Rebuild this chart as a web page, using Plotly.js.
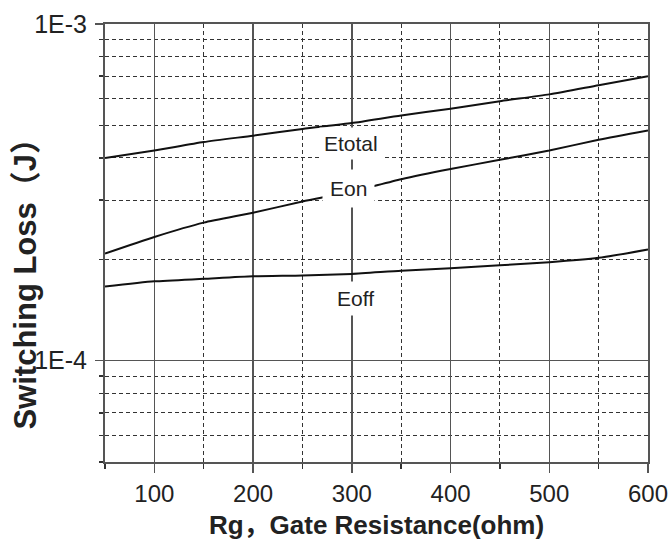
<!DOCTYPE html>
<html><head><meta charset="utf-8">
<script src="https://cdn.plot.ly/plotly-3.0.1.min.js"></script>
<style>html,body{margin:0;padding:0;background:#fff}#chart{width:669px;height:547px}</style>
</head><body><div id="chart"></div>
<script>
// Gate resistance (ohm)
const rg = [50, 100, 150, 200, 250, 300, 350, 400, 450, 500, 550, 600];
// Switching losses (J)
const eTotal = [4.00e-4, 4.21e-4, 4.46e-4, 4.66e-4, 4.88e-4, 5.08e-4, 5.35e-4, 5.60e-4, 5.90e-4, 6.18e-4, 6.58e-4, 7.00e-4];
const eOn    = [2.08e-4, 2.33e-4, 2.57e-4, 2.75e-4, 2.97e-4, 3.18e-4, 3.46e-4, 3.71e-4, 3.95e-4, 4.21e-4, 4.53e-4, 4.83e-4];
const eOff   = [1.66e-4, 1.72e-4, 1.75e-4, 1.78e-4, 1.79e-4, 1.81e-4, 1.85e-4, 1.88e-4, 1.92e-4, 1.96e-4, 2.02e-4, 2.14e-4];
const seriesNames = ['Etotal', 'Eon', 'Eoff'];
const yTickVals = [1e-4, 1e-3];
const yTickText = ['1E-4', '1E-3'];
const xTitle = 'Rg，Gate Resistance(ohm)';
const yTitle = 'Switching Loss（J）';

const FONT = "Arial, 'Liberation Sans', 'Noto Sans CJK SC', sans-serif";
const line = {color: '#111', width: 2, shape: 'spline', smoothing: 0.6};
const traces = [eTotal, eOn, eOff].map((ys, i) => ({
  x: rg, y: ys, name: seriesNames[i], type: 'scatter', mode: 'lines', line: line, showlegend: false
}));

const labelPos = [
  {x: 299, y: 4.42e-4, pad: 4},
  {x: 297, y: 3.24e-4, pad: 7},
  {x: 304, y: 1.53e-4, pad: 5}
];
const annotations = seriesNames.map((n, i) => ({
  text: n, x: labelPos[i].x, y: Math.log10(labelPos[i].y), xref: 'x', yref: 'y',
  showarrow: false, bgcolor: '#fff', borderpad: labelPos[i].pad,
  font: {family: FONT, size: 21, color: '#222'}
}));
annotations.push({
  text: yTitle, xref: 'paper', yref: 'paper', x: -0.146, y: 0.425,
  xanchor: 'center', yanchor: 'middle', textangle: -90, showarrow: false,
  font: {family: FONT, size: 31, color: '#222', weight: 'bold'}
});

const layout = {
  width: 669, height: 547,
  margin: {l: 105, r: 21, t: 24, b: 85},
  paper_bgcolor: '#fff', plot_bgcolor: '#fff',
  font: {family: FONT, color: '#222'},
  xaxis: {
    range: [50, 600], tick0: 0, dtick: 100,
    showline: true, mirror: true, linecolor: '#555', linewidth: 2,
    showgrid: true, gridcolor: '#555', gridwidth: 1.5,
    ticks: 'outside', ticklen: 9, tickcolor: '#555', tickwidth: 1.5,
    tickfont: {family: FONT, size: 24, color: '#222'},
    ticklabelstandoff: 0, ticklabeloverflow: 'allow',
    zeroline: false,
    minor: {dtick: 50, tick0: 0, showgrid: true, gridcolor: '#333', gridwidth: 1, griddash: '4px,3px',
            ticks: 'outside', ticklen: 5, tickcolor: '#333'},
    title: {text: xTitle, standoff: 10, font: {family: FONT, size: 26, color: '#222', weight: 'bold'}}
  },
  yaxis: {
    type: 'log', range: [Math.log10(5e-5), -3],
    tickmode: 'array', tickvals: yTickVals, ticktext: yTickText,
    showline: true, mirror: true, linecolor: '#555', linewidth: 2,
    showgrid: true, gridcolor: '#555', gridwidth: 1.5,
    ticks: 'outside', ticklen: 8, tickcolor: '#555', tickwidth: 1.5,
    tickfont: {family: FONT, size: 25, color: '#222'},
    ticklabelstandoff: 3, ticklabeloverflow: 'allow',
    zeroline: false,
    minor: {dtick: 'D1', showgrid: true, gridcolor: '#333', gridwidth: 1, griddash: '4px,3px',
            ticks: 'outside', ticklen: 4, tickcolor: '#333'}
  },
  annotations: annotations
};
Plotly.newPlot('chart', traces, layout, {staticPlot: true, displayModeBar: false});
</script></body></html>
